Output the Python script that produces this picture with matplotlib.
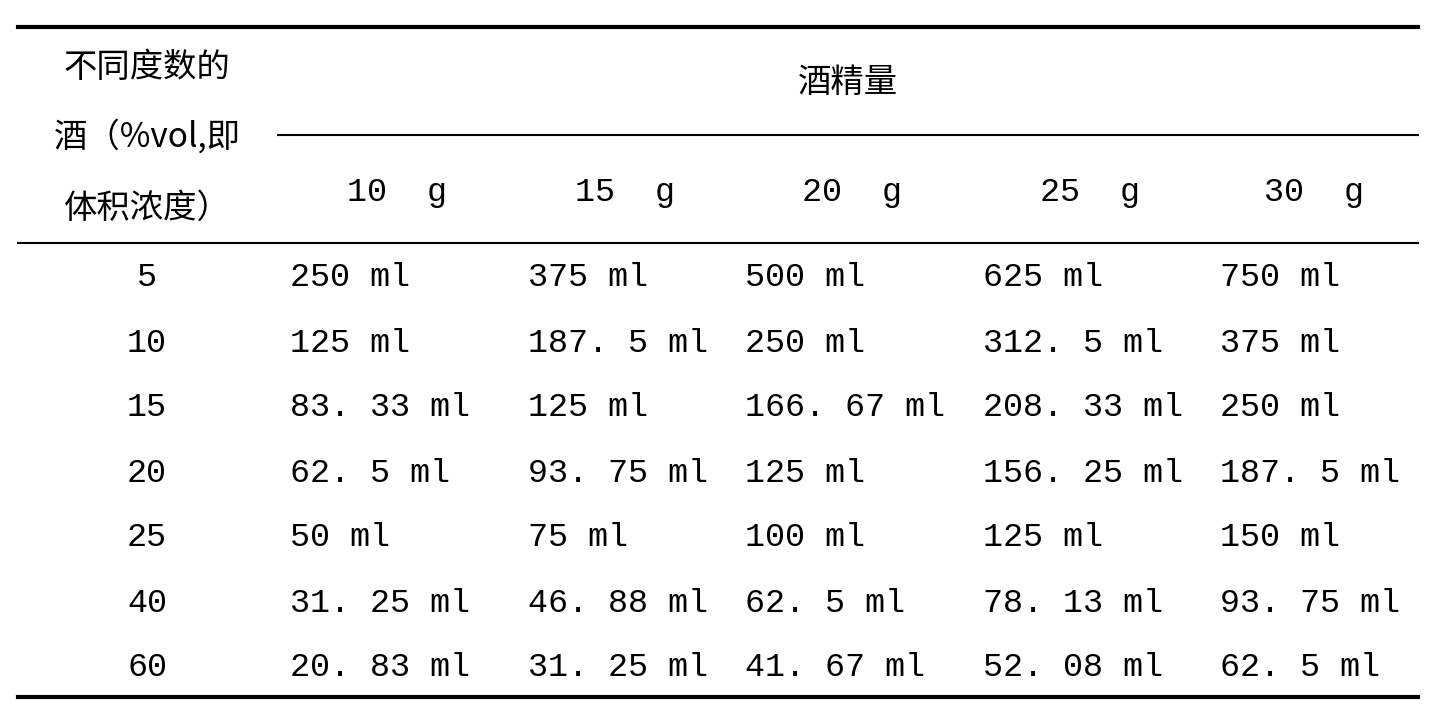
import matplotlib
matplotlib.use("Agg")
import matplotlib.pyplot as plt

degrees = ["5", "10", "15", "20", "25", "40", "60"]
amounts = ["10 g", "15 g", "20 g", "25 g", "30 g"]
values = [
    ["250 ml", "375 ml", "500 ml", "625 ml", "750 ml"],
    ["125 ml", "187. 5 ml", "250 ml", "312. 5 ml", "375 ml"],
    ["83. 33 ml", "125 ml", "166. 67 ml", "208. 33 ml", "250 ml"],
    ["62. 5 ml", "93. 75 ml", "125 ml", "156. 25 ml", "187. 5 ml"],
    ["50 ml", "75 ml", "100 ml", "125 ml", "150 ml"],
    ["31. 25 ml", "46. 88 ml", "62. 5 ml", "78. 13 ml", "93. 75 ml"],
    ["20. 83 ml", "31. 25 ml", "41. 67 ml", "52. 08 ml", "62. 5 ml"],
]
header_lines = ["不同度数的", "酒（%vol,即", "体积浓度）"]
group_title = "酒精量"

W, H = 1448, 708
fig = plt.figure(figsize=(W / 100, H / 100), dpi=100)
ax = fig.add_axes([0, 0, 1, 1])
ax.set_xlim(0, W)
ax.set_ylim(H, 0)
ax.axis("off")

fam = ["Liberation Mono", "Noto Sans CJK SC", "DejaVu Sans"]
cjk = ["Noto Sans CJK SC", "DejaVu Sans"]
fs = 24

ax.plot([18, 1418], [27, 27], color="black", lw=3)
ax.plot([278, 1418], [135, 135], color="black", lw=1.5)
ax.plot([18, 1418], [243, 243], color="black", lw=1.5)
ax.plot([18, 1418], [697, 697], color="black", lw=3)

for y, t in zip([68, 137, 208], header_lines):
    ax.text(147, y, t, ha="center", va="center", fontsize=fs, family=cjk)
ax.text(848, 82, group_title, ha="center", va="center", fontsize=fs, family=cjk)

sub_x = [397, 625, 852, 1090, 1314]
for x, t in zip(sub_x, amounts):
    ax.text(x, 192, t.replace(" ", "  "), ha="center", va="center", fontsize=fs, family=fam)

row_y = [278, 343, 408, 473, 538, 603, 668]
col_x = [290, 528, 745, 983, 1220]
for y, d, row in zip(row_y, degrees, values):
    ax.text(147, y, d, ha="center", va="center", fontsize=fs, family=fam)
    for x, v in zip(col_x, row):
        ax.text(x, y, v, ha="left", va="center", fontsize=fs, family=fam)

fig.savefig("out.png", dpi=100, facecolor="white")
